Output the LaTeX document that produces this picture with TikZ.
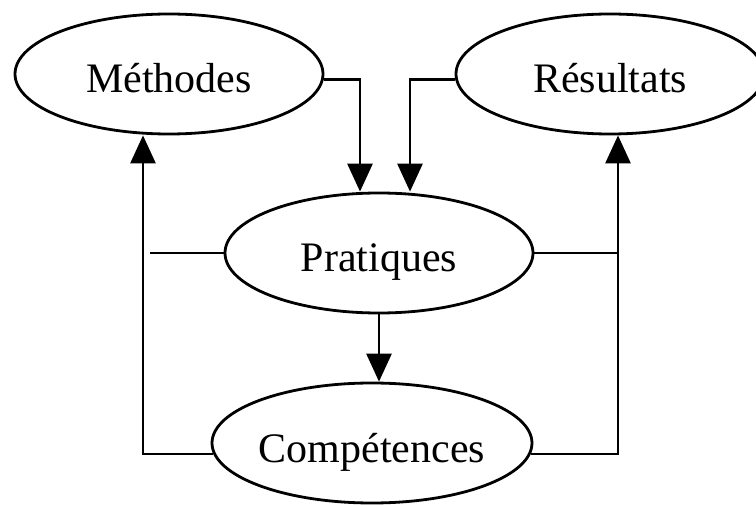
\documentclass[tikz,border=0pt]{standalone}
\usepackage{fontspec}
\setmainfont{Liberation Serif}
\usetikzlibrary{shapes.geometric}
\usetikzlibrary{positioning}
\usetikzlibrary{arrows.meta}

\begin{document}
\begin{tikzpicture}[x=1pt,y=-1pt,line width=2.8pt,node distance=190pt,on grid,
    >={Triangle[length=28pt,width=25pt]},
    oval/.style={draw,ellipse,minimum width=308pt,minimum height=120pt,inner sep=0pt,
      text height=38pt,text depth=0pt,font=\fontsize{42}{50}\selectfont}]
        \useasboundingbox (0,0) rectangle (756,505);
        \node[oval] (prat) at (379,253) {Pratiques};
        \node[oval] (comp) [below=of prat, xshift=-7pt] {Compétences};
        \node[oval] (meth) [above left=179pt and 210pt of prat] {Méthodes};
        \node[oval] (res) [above right=179pt and 231pt of prat] {Résultats};
        \coordinate (pl) at (150,253);
        \coordinate (pr) at (618,253);
        \draw[->] (meth.-2) -| ([xshift=-19pt]prat.north);
        \draw[->] (res.182) -| ([xshift=31pt]prat.north);
        \draw[->] (prat.south) -- (prat.south |- comp.north);
        \draw[->] (comp.184.5) -| ([xshift=-26pt]meth.south);
        \draw[->] (comp.-4.5) -| ([xshift=8pt]res.south);
        \draw (prat.west) -- (pl);
        \draw (prat.east) -- (pr);
      \end{tikzpicture}
\end{document}
